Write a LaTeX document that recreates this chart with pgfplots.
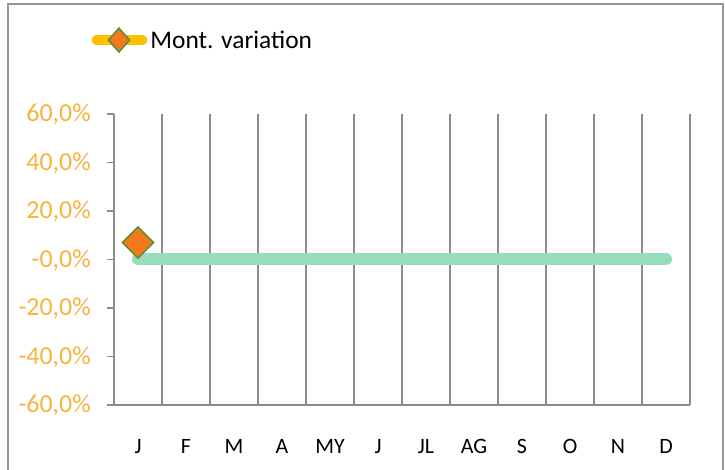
\documentclass[border=0pt]{standalone}
\usepackage{pgfplots}
\pgfplotsset{compat=1.18}
\usepackage{fontspec}
\setmainfont{Carlito}
\definecolor{tickorange}{RGB}{247,180,60}
\definecolor{gridgray}{RGB}{140,140,140}
\definecolor{framegray}{RGB}{150,150,150}
\definecolor{legyellow}{RGB}{255,192,0}
\definecolor{dorange}{RGB}{242,122,28}
\definecolor{dgreen}{RGB}{95,140,50}
\definecolor{lgreen}{RGB}{150,222,185}
\begin{document}
\begin{tikzpicture}[x=1bp,y=1bp]
\path[use as bounding box] (0,0) rectangle (725,470);
\draw[framegray, line width=2bp] (8,-10) -- (8,466) -- (723,466) -- (723,-10);
\begin{axis}[
  at={(114bp,65bp)}, anchor=south west,
  scale only axis, width=576bp, height=291bp,
  xmin=-0.5, xmax=11.5, ymin=-60, ymax=60,
  clip=false,
  axis lines*=left,
  axis line style={gridgray, line width=1.5bp},
  xtick={0,...,11},
  xticklabels={J,F,M,A,MY,J,JL,AG,S,O,N,D},
  minor xtick={-0.5,0.5,...,11.5},
  xminorgrids,
  minor grid style={gridgray, line width=1.5bp},
  major x tick style={draw=none},
  minor tick length=0pt,
  ytick={-60,-40,...,60},
  yticklabels={{-60,0\%},{-40,0\%},{-20,0\%},{-0,0\%},{20,0\%},{40,0\%},{60,0\%}},
  tick align=outside,
  major tick length=7bp,
  y tick style={gridgray, line width=1.5bp},
  /pgf/number format/assume math mode=true,
  yticklabel style={font=\fontsize{26}{30}\selectfont, color=tickorange, anchor=east, inner sep=0pt, text height=16bp, text depth=0bp, xshift=-16bp},
  xticklabel style={font=\fontsize{22}{26}\selectfont, color=black, inner sep=0pt, text height=13.5bp, text depth=0bp, anchor=north, yshift=-28bp},
  legend style={at={(axis description cs:-0.0395,1.254)}, anchor=west, draw=none, fill=none, inner sep=0pt, column sep=3bp, nodes={inner sep=0pt}, font=\fontsize{25.5}{30}\selectfont},
  legend image code/.code={
    \draw[legyellow, line width=10bp, line cap=round] (0bp,0bp) -- (46bp,0bp);
    \draw[fill=dorange, draw=dgreen, line width=1.5bp] (22.5bp,12bp) -- (33bp,0bp) -- (22.5bp,-12bp) -- (12bp,0bp) -- cycle;
  },
]
\addplot[lgreen, line width=12bp, line cap=round, forget plot] coordinates {
  (0,0) (1,0) (2,0) (3,0) (4,0) (5,0) (6,0) (7,0) (8,0) (9,0) (10,0) (11,0)
};
\addplot[legyellow, line width=6bp, mark=square*, mark size=11bp,
  mark options={fill=dorange, draw=dgreen, line width=1.5bp, rotate=45}] coordinates {(0,7)};
\addlegendentry{Mont. variation}
\end{axis}
\end{tikzpicture}
\end{document}
